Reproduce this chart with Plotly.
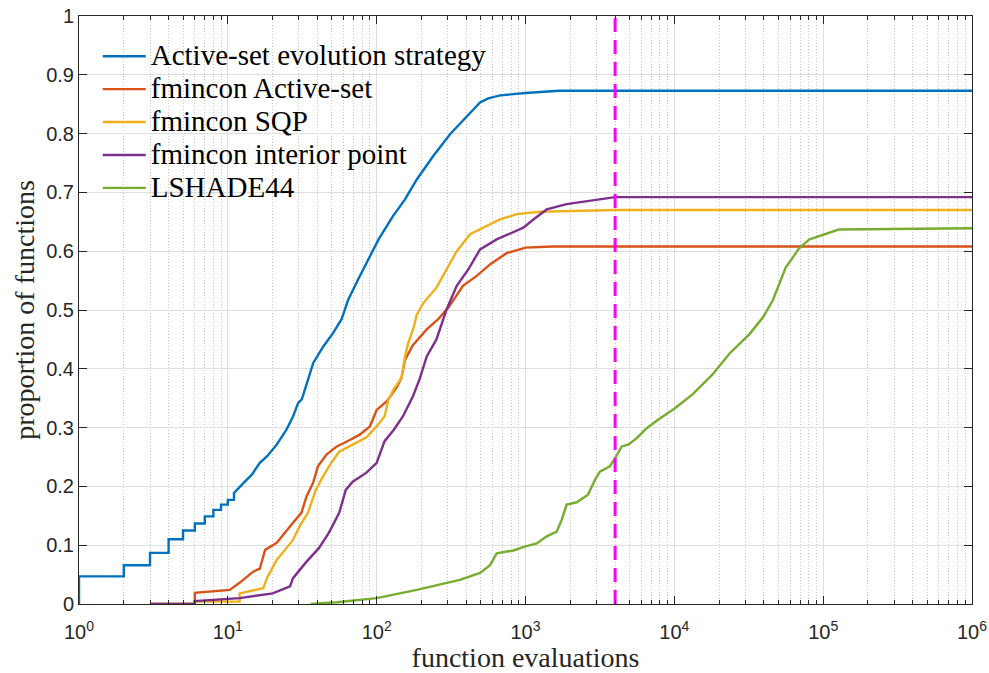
import plotly.graph_objects as go

# Data-profile curves: proportion of functions solved vs. function evaluations
es_x = [1, 1, 2, 2, 3, 3, 4, 4, 5, 5, 6, 6, 7, 7, 8, 8, 9, 9, 10, 10, 11, 11,
        13, 14.5, 16.4, 18.3, 21.3, 24.7, 27.4, 29.7, 31.4, 33, 37.5, 43.8, 51,
        58, 64.5, 75, 88, 103, 129, 155, 186, 240, 311, 403, 495, 562, 675,
        1000, 1680, 1e6]
es_y = [0, 0.047, 0.047, 0.066, 0.066, 0.087, 0.087, 0.11, 0.11, 0.125, 0.125,
        0.137, 0.137, 0.149, 0.149, 0.16, 0.16, 0.169, 0.169, 0.177, 0.177, 0.189,
        0.208, 0.22, 0.24, 0.251, 0.271, 0.296, 0.319, 0.342, 0.348, 0.365, 0.41,
        0.438, 0.461, 0.484, 0.518, 0.552, 0.586, 0.62, 0.66, 0.688, 0.722, 0.762,
        0.799, 0.83, 0.853, 0.86, 0.865, 0.869, 0.873, 0.873]

as_x = [3, 6, 6, 10.3, 12, 14.8, 16.4, 17.8, 21.3, 24.7, 27.4, 31.2, 33.8, 37.4,
        40.3, 46, 54, 66, 77, 90, 100, 117, 136, 147, 155, 175, 217, 260, 303,
        380, 470, 580, 750, 1000, 1520, 1e6]
as_y = [0, 0, 0.019, 0.024, 0.036, 0.055, 0.06, 0.092, 0.104, 0.123, 0.138, 0.155,
        0.183, 0.206, 0.234, 0.254, 0.268, 0.279, 0.288, 0.302, 0.33, 0.345, 0.368,
        0.385, 0.415, 0.44, 0.467, 0.485, 0.504, 0.541, 0.558, 0.578, 0.597, 0.606,
        0.608, 0.608]

sqp_x = [3, 6, 6, 12, 12, 17.3, 18.3, 21.3, 24.7, 27.4, 30.3, 34.5, 39, 43.6,
         49.5, 56, 69, 85, 100, 113, 120, 130, 147, 155, 163, 177, 186, 206, 252,
         295, 345, 424, 521, 674, 872, 1250, 4000, 1e6]
sqp_y = [0, 0, 0.004, 0.004, 0.018, 0.027, 0.044, 0.075, 0.095, 0.109, 0.132,
         0.155, 0.194, 0.217, 0.24, 0.259, 0.271, 0.283, 0.302, 0.319, 0.348, 0.365,
         0.385, 0.421, 0.444, 0.47, 0.492, 0.512, 0.538, 0.569, 0.6, 0.629, 0.64,
         0.654, 0.663, 0.667, 0.67, 0.67]

ip_x = [3, 6, 6, 12, 20, 26.2, 27.4, 33.8, 40.9, 47.7, 56, 62, 69, 85, 100, 113,
        130, 150, 175, 194, 217, 252, 295, 345, 413, 495, 640, 829, 967, 1130,
        1388, 1890, 3160, 4000, 1e6]
ip_y = [0, 0, 0.005, 0.01, 0.018, 0.03, 0.044, 0.072, 0.095, 0.121, 0.155, 0.194,
        0.208, 0.223, 0.24, 0.277, 0.296, 0.319, 0.353, 0.382, 0.421, 0.45, 0.501,
        0.541, 0.569, 0.603, 0.62, 0.632, 0.64, 0.654, 0.671, 0.68, 0.688, 0.692,
        0.692]

lsh_x = [36, 54, 100, 186, 362, 495, 578, 640, 828, 1000, 1190, 1390, 1620, 1750,
         1890, 2210, 2630, 2930, 3160, 3690, 4000, 4430, 4900, 5590, 6520, 8020,
         1e4, 1.33e4, 1.8e4, 2.35e4, 3.2e4, 3.95e4, 4.6e4, 5.6e4, 6.9e4, 8.06e4,
         1e5, 1.28e5, 1e6]
lsh_y = [0, 0.003, 0.01, 0.024, 0.041, 0.053, 0.066, 0.086, 0.091, 0.098, 0.103,
         0.115, 0.123, 0.143, 0.169, 0.173, 0.186, 0.211, 0.225, 0.234, 0.248,
         0.268, 0.271, 0.282, 0.299, 0.316, 0.332, 0.357, 0.39, 0.426, 0.459, 0.488,
         0.517, 0.572, 0.605, 0.62, 0.628, 0.637, 0.639]

budget = 4000  # evaluation budget marker

series = [
    ("Active-set evolution strategy", es_x, es_y, "#0072BD"),
    ("fmincon Active-set", as_x, as_y, "#D95319"),
    ("fmincon SQP", sqp_x, sqp_y, "#EDB120"),
    ("fmincon interior point", ip_x, ip_y, "#7E2F8E"),
    ("LSHADE44", lsh_x, lsh_y, "#77AC30"),
]

x_major = [10 ** n for n in range(7)]
x_labels = ["10<sup>%d</sup>" % n for n in range(7)]
x_minor = [k * 10 ** n for n in range(6) for k in range(2, 10)]
y_ticks = [i / 10 for i in range(11)]
y_labels = ["0"] + ["%.1f" % v for v in y_ticks[1:-1]] + ["1"]

fig = go.Figure()
for name, xs, ys, color in series:
    fig.add_trace(go.Scatter(
        x=xs, y=ys, mode="lines",
        name='<span style="font-size:29px">%s</span>' % name,
        line=dict(color=color, width=2.4)))

fig.add_trace(go.Scatter(x=[budget, budget], y=[0, 1], mode="lines",
                         showlegend=False, hoverinfo="skip",
                         line=dict(color="#FF00FF", width=3, dash="14px,8px")))

axis_color = "#262626"
fig.update_layout(
    width=989, height=673,
    margin=dict(l=79, r=17, t=16, b=69),
    paper_bgcolor="white", plot_bgcolor="white",
    showlegend=True,
    legend=dict(x=0.021, y=0.968, xanchor="left", yanchor="top",
                itemwidth=43,
                bgcolor="rgba(255,255,255,0)", borderwidth=0,
                font=dict(family="Liberation Serif", size=23, color="black")),
    xaxis=dict(
        type="log", range=[0, 6], automargin=False,
        tickmode="array", tickvals=x_major, ticktext=x_labels,
        ticks="inside", ticklen=8, tickwidth=1, tickcolor=axis_color,
        ticklabelstandoff=10,
        showline=True, linecolor=axis_color, linewidth=1, mirror="ticks",
        showgrid=True, gridcolor="#DEDEDE", gridwidth=1,
        zeroline=False,
        tickfont=dict(family="Liberation Sans", size=20, color=axis_color),
        minor=dict(tickmode="array", tickvals=x_minor, ticks="inside",
                   ticklen=4, tickcolor=axis_color, showgrid=True,
                   gridcolor="#C8C8C8", griddash="1px,2px", gridwidth=1),
        title=dict(text="function evaluations", standoff=14,
                   font=dict(family="Liberation Serif", size=28, color=axis_color)),
    ),
    yaxis=dict(
        range=[0, 1], automargin=False,
        tickmode="array", tickvals=y_ticks, ticktext=y_labels,
        ticks="inside", ticklen=8, tickwidth=1, tickcolor=axis_color,
        showline=True, linecolor=axis_color, linewidth=1, mirror="ticks",
        showgrid=True, gridcolor="#DEDEDE", gridwidth=1,
        zeroline=False,
        tickfont=dict(family="Liberation Sans", size=20, color=axis_color),
        title=dict(text="proportion of functions", standoff=3,
                   font=dict(family="Liberation Serif", size=28, color=axis_color)),
    ),
)

fig.write_html("out.html")
